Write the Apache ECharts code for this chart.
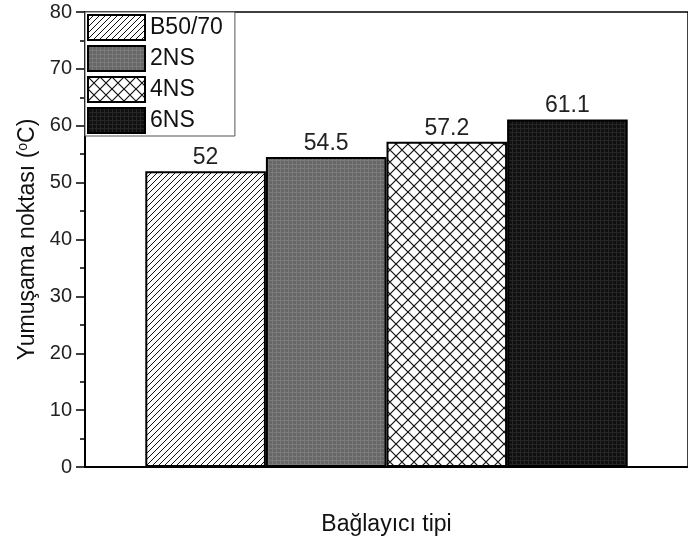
<!DOCTYPE html>
<html>
<head>
<meta charset="utf-8">
<script src="https://cdn.jsdelivr.net/npm/echarts@6/dist/echarts.min.js"></script>
<style>
  html, body { margin: 0; padding: 0; background: #fff; }
  #main { width: 688px; height: 544px; }
</style>
</head>
<body>
<div id="main"></div>
<script>
// veriler
var binders = ["B50/70", "2NS", "4NS", "6NS"];
var softening = [52, 54.5, 57.2, 61.1];
var yTicks = [0, 10, 20, 30, 40, 50, 60, 70, 80];

/**
 * desen (pattern) kanvası üret
 */
function makeTile(size, draw) {
  var c = document.createElement("canvas");
  c.width = size;
  c.height = size;
  var ctx = c.getContext("2d");
  draw(ctx, size);
  return c;
}

function hatchTile() {
  return makeTile(6, function (ctx, s) {
    ctx.fillStyle = "#fff";
    ctx.fillRect(0, 0, s, s);
    ctx.strokeStyle = "#111";
    ctx.lineWidth = 1;
    ctx.beginPath();
    ctx.moveTo(0, s); ctx.lineTo(s, 0);
    ctx.moveTo(-1, 1); ctx.lineTo(1, -1);
    ctx.moveTo(s - 1, s + 1); ctx.lineTo(s + 1, s - 1);
    ctx.stroke();
  });
}

function greyTile() {
  return makeTile(4, function (ctx, s) {
    ctx.fillStyle = "#676767";
    ctx.fillRect(0, 0, s, s);
    ctx.fillStyle = "#7a7a7a";
    ctx.fillRect(0, 0, s, 1);
    ctx.fillRect(0, 0, 1, s);
  });
}

function crossTile() {
  return makeTile(12, function (ctx, s) {
    ctx.fillStyle = "#fff";
    ctx.fillRect(0, 0, s, s);
    ctx.strokeStyle = "#111";
    ctx.lineWidth = 1.2;
    ctx.beginPath();
    ctx.moveTo(0, 0); ctx.lineTo(s, s);
    ctx.moveTo(0, s); ctx.lineTo(s, 0);
    ctx.stroke();
  });
}

function blackTile() {
  return makeTile(4, function (ctx, s) {
    ctx.fillStyle = "#101010";
    ctx.fillRect(0, 0, s, s);
    ctx.fillStyle = "#262626";
    ctx.fillRect(0, 0, s, 1);
    ctx.fillRect(0, 0, 1, s);
  });
}

var patterns = [hatchTile(), greyTile(), crossTile(), blackTile()];

var myChart = echarts.init(document.getElementById("main"));

var series = [];
for (var i = 0; i < binders.length; i++) {
  series.push({
    name: binders[i],
    type: "bar",
    data: [softening[i]],
    barGap: "0%",
    barCategoryGap: "20%",
    itemStyle: {
      color: { image: patterns[i], repeat: "repeat" },
      borderColor: "#000",
      borderWidth: 2
    },
    label: {
      show: true,
      position: "top",
      distance: 2,
      fontFamily: "Liberation Sans",
      fontSize: 23,
      color: "#222"
    }
  });
}

myChart.setOption({
  animation: false,
  textStyle: { fontFamily: "Liberation Sans" },
  grid: {
    left: 85,
    right: -9,
    top: 12,
    bottom: 77,
    show: true,
    borderColor: "#000",
    borderWidth: 1.5
  },
  legend: {
    orient: "vertical",
    left: 85,
    top: 12,
    itemWidth: 57,
    itemHeight: 25,
    itemGap: 4,
    padding: [2, 12, 2, 2],
    backgroundColor: "#fff",
    borderColor: "#555",
    borderWidth: 1,
    icon: "rect",
    itemStyle: { borderColor: "#000", borderWidth: 2 },
    textStyle: { fontSize: 23, lineHeight: 25, color: "#111", fontFamily: "Liberation Sans" },
    data: binders
  },
  xAxis: {
    type: "category",
    data: [""],
    name: "Bağlayıcı tipi",
    nameLocation: "middle",
    nameGap: 46,
    nameTextStyle: { fontSize: 23, color: "#111" },
    axisLine: { lineStyle: { color: "#000", width: 2 } },
    axisTick: { alignWithLabel: true, length: 10, lineStyle: { width: 2, color: "#000" } },
    axisLabel: { show: false }
  },
  yAxis: {
    type: "value",
    min: yTicks[0],
    max: yTicks[yTicks.length - 1],
    interval: 10,
    name: "Yumuşama noktası ({sup|o}C)",
    nameLocation: "middle",
    nameGap: 43,
    nameTextStyle: {
      fontSize: 23,
      color: "#111",
      rich: {
        sup: { fontSize: 14, verticalAlign: "top", padding: [0, 0, 9, 0], color: "#111" }
      }
    },
    splitLine: { show: false },
    axisLine: { show: true, lineStyle: { color: "#000", width: 2 } },
    axisTick: { show: true, length: 9, lineStyle: { color: "#000", width: 1.5 } },
    minorTick: { show: true, splitNumber: 2, length: 5, lineStyle: { color: "#000", width: 1.5 } },
    axisLabel: { fontSize: 20, color: "#222", margin: 13 }
  },
  series: series
});

window.onresize = myChart.resize;
</script>
</body>
</html>
